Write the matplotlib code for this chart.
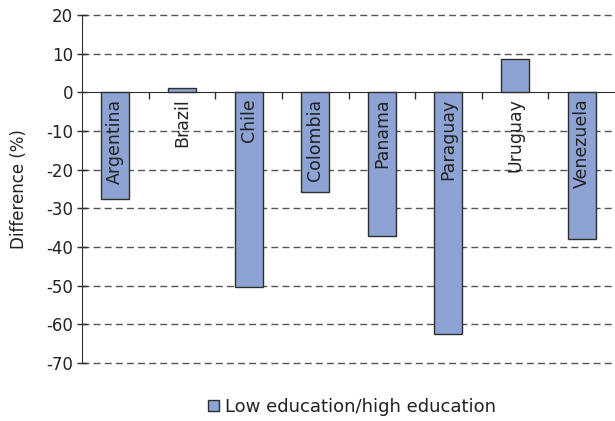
import matplotlib
matplotlib.use("Agg")
import matplotlib.pyplot as plt
from matplotlib.patches import Patch
import numpy as np

countries = ["Argentina", "Brazil", "Chile", "Colombia", "Panama",
             "Paraguay", "Uruguay", "Venezuela"]
difference = [-27.6, 1.0, -50.4, -25.9, -37.2, -62.5, 8.5, -38.0]
series_name = "Low education/high education"
y_ticks = [20, 10, 0, -10, -20, -30, -40, -50, -60, -70]

bar_color = "#8DA3D3"
edge_color = "#2E2E2E"
grid_color = "#555555"
text_color = "#222222"

plt.rcParams["font.family"] = ["DejaVu Sans"]

fig = plt.figure(figsize=(6.15, 4.21), dpi=100)
ax = fig.add_axes([82 / 615, 1 - 363 / 421, 1 - 82 / 615, (363 - 15) / 421])

x = np.arange(len(countries))
ax.bar(x, difference, width=0.42, color=bar_color, edgecolor=edge_color,
       linewidth=1.0, zorder=3)

# Country names run vertically just below the zero line
for xi, name in zip(x, countries):
    ax.text(xi, -1.6, name, rotation=90, ha="center", va="top",
            fontsize=12.5, color=text_color, zorder=4)

ax.set_xlim(-0.5, len(countries) - 0.5)
ax.set_ylim(-70, 20)
ax.set_yticks(y_ticks)
ax.set_yticklabels([str(v) for v in y_ticks], fontsize=12, color=text_color)
ax.tick_params(axis="y", direction="inout", length=7, width=1.0,
               color=edge_color, pad=3)

# Dashed horizontal gridlines (skip zero, which is the category axis)
for v in y_ticks:
    if v != 0:
        ax.axhline(v, color=grid_color, linestyle=(0, (5, 3)), linewidth=1.0,
                   zorder=1, clip_on=False)

# Category axis sits on the zero line with ticks between groups
ax.spines["bottom"].set_position(("data", 0))
ax.spines["bottom"].set_color(edge_color)
ax.spines["bottom"].set_zorder(2)
ax.set_xticks(np.arange(0.5, len(countries) - 0.5, 1.0))
ax.set_xticklabels([])
ax.tick_params(axis="x", direction="out", length=5, width=1.0,
               color=edge_color)
ax.spines["left"].set_color(edge_color)
ax.spines["top"].set_visible(False)
ax.spines["right"].set_visible(False)

ax.set_ylabel("Difference (%)", fontsize=12, color=text_color, labelpad=13)

handle = Patch(facecolor=bar_color, edgecolor=edge_color, linewidth=1.0)
fig.legend([handle], [series_name], loc="center",
           bbox_to_anchor=(352 / 615, 1 - 407 / 421),
           frameon=False, fontsize=13, handlelength=0.6, handleheight=0.6,
           handletextpad=0.3, labelcolor=text_color)

fig.savefig("out.png", dpi=100)
